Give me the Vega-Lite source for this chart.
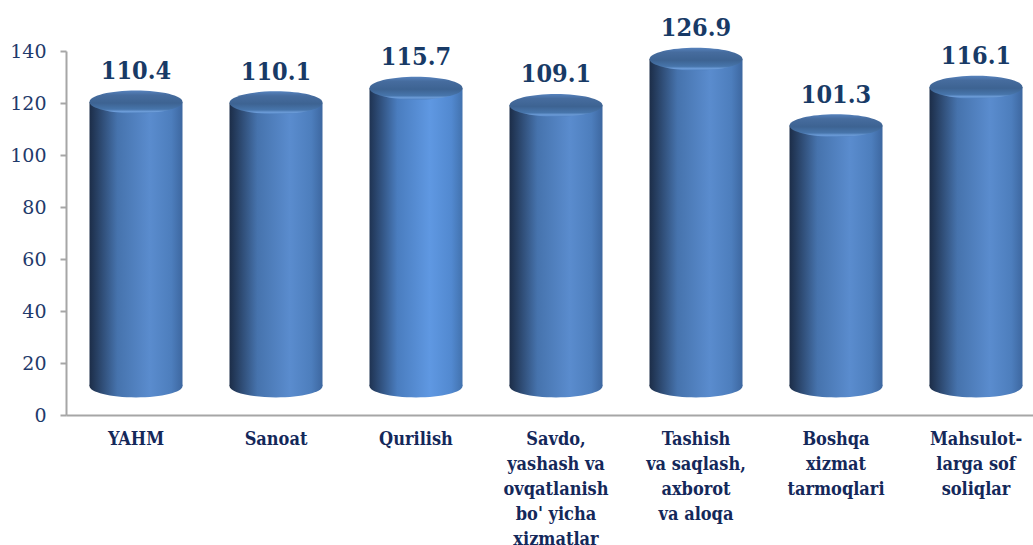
{
  "$schema": "https://vega.github.io/schema/vega-lite/v6.json",
  "autosize": "none",
  "width": 967,
  "height": 364,
  "padding": {"left": 66, "top": 51, "right": 0, "bottom": 130},
  "background": "white",
  "config": {"view": {"stroke": null}, "font": "DejaVu Serif"},
  "data": {"values": [
    {"cat": "YAHM", "v": 110.4},
    {"cat": "Sanoat", "v": 110.1},
    {"cat": "Qurilish", "v": 115.7},
    {"cat": "Savdo,|yashash va|ovqatlanish|bo' yicha|xizmatlar", "v": 109.1},
    {"cat": "Tashish|va saqlash,|axborot|va aloqa", "v": 126.9},
    {"cat": "Boshqa|xizmat|tarmoqlari", "v": 101.3},
    {"cat": "Mahsulot-|larga sof|soliqlar", "v": 116.1}
  ]},
  "encoding": {
    "x": {
      "field": "cat", "type": "nominal", "sort": null,
      "scale": {"range": [0, 980], "paddingInner": 0, "paddingOuter": 0},
      "axis": {
        "title": null, "labelAngle": 0, "ticks": false, "tickSize": 0,
        "labelPadding": 29, "labelBaseline": "alphabetic",
        "labelExpr": "split(datum.label, '|')",
        "labelFont": "DejaVu Serif Condensed", "labelFontSize": 18, "labelFontWeight": "bold",
        "labelColor": "#14285a", "labelLineHeight": 25, "labelLimit": 0,
        "domainColor": "#a6a6a6", "domainWidth": 2, "labelOverlap": false
      }
    }
  },
  "layer": [
    {
      "mark": {"type": "point", "shape": "M -1 0 A 1 0.245 0 1 0 1 0 A 1 0.245 0 1 0 -1 0 Z", "size": 8649, "filled": true, "opacity": 1, "strokeWidth": 0, "yOffset": -29},
      "encoding": {
        "y": {"datum": 0, "type": "quantitative"},
        "fill": {
          "condition": {"test": "datum.cat === 'Qurilish'", "value": {"gradient": "linear", "x1": 0, "y1": 0, "x2": 1, "y2": 0, "stops": [
            {"offset": 0, "color": "#1f3352"}, {"offset": 0.3, "color": "#4a7dbf"}, {"offset": 0.65, "color": "#5f98e2"}, {"offset": 0.88, "color": "#5289d0"}, {"offset": 1, "color": "#4272ae"}]}},
          "value": {"gradient": "linear", "x1": 0, "y1": 0, "x2": 1, "y2": 0, "stops": [
            {"offset": 0, "color": "#1c2d48"}, {"offset": 0.3, "color": "#4673ad"}, {"offset": 0.65, "color": "#5a8cce"}, {"offset": 0.88, "color": "#4d7ebd"}, {"offset": 1, "color": "#3d67a0"}]}
        }
      }
    },
    {
      "mark": {"type": "bar", "width": 93, "yOffset": -26, "y2Offset": -29},
      "encoding": {
        "y": {"field": "v", "type": "quantitative", "scale": {"domain": [0, 140], "nice": false},
          "axis": {
            "title": null, "values": [0, 20, 40, 60, 80, 100, 120, 140], "grid": false,
            "labelFont": "DejaVu Serif", "labelFontSize": 19, "labelColor": "#1f3a6b",
            "tickSize": 6, "tickWidth": 2, "tickColor": "#a6a6a6",
            "domainColor": "#a6a6a6", "domainWidth": 2, "labelPadding": 14
          }},
        "y2": {"datum": 0},
        "fill": {
          "condition": {"test": "datum.cat === 'Qurilish'", "value": {"gradient": "linear", "x1": 0, "y1": 0, "x2": 1, "y2": 0, "stops": [
            {"offset": 0, "color": "#1f3352"}, {"offset": 0.3, "color": "#4a7dbf"}, {"offset": 0.65, "color": "#5f98e2"}, {"offset": 0.88, "color": "#5289d0"}, {"offset": 1, "color": "#4272ae"}]}},
          "value": {"gradient": "linear", "x1": 0, "y1": 0, "x2": 1, "y2": 0, "stops": [
            {"offset": 0, "color": "#1c2d48"}, {"offset": 0.3, "color": "#4673ad"}, {"offset": 0.65, "color": "#5a8cce"}, {"offset": 0.88, "color": "#4d7ebd"}, {"offset": 1, "color": "#3d67a0"}]}
        }
      }
    },
    {
      "mark": {"type": "point", "shape": "M -1 0 A 1 0.245 0 1 0 1 0 A 1 0.245 0 1 0 -1 0 Z", "size": 8649, "filled": true, "opacity": 1, "strokeWidth": 0, "yOffset": -26},
      "encoding": {
        "y": {"field": "v", "type": "quantitative"},
        "fill": {"value": {"gradient": "linear", "x1": 0, "y1": 0, "x2": 0, "y2": 1, "stops": [
          {"offset": 0, "color": "#5682bd"}, {"offset": 0.2, "color": "#466c9e"}, {"offset": 0.55, "color": "#3d6392"}, {"offset": 0.82, "color": "#4775ab"}, {"offset": 0.92, "color": "#6c9cd8"}, {"offset": 1, "color": "#4f80bf"}]}}
      }
    },
    {
      "mark": {"type": "text", "baseline": "alphabetic", "align": "center", "yOffset": -49, "font": "DejaVu Serif Condensed", "fontSize": 25, "fontWeight": "bold", "color": "#183a66"},
      "encoding": {
        "y": {"field": "v", "type": "quantitative"},
        "text": {"field": "v", "type": "quantitative", "format": ".1f"}
      }
    }
  ]
}
